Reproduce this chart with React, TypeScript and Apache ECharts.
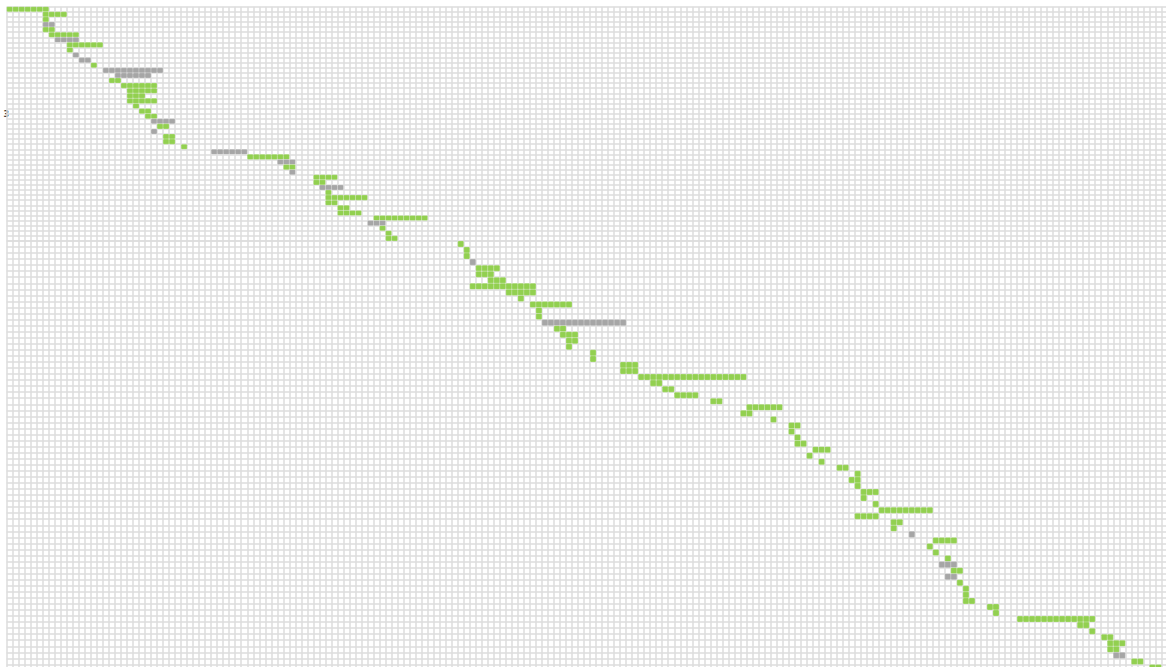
import React, { useEffect, useRef } from "react";
import * as echarts from "echarts";

// ---- data ---------------------------------------------------------------
// Column count of the matrix (each column is one time slot)
const COLUMN_COUNT = 193;
const columnLabels: string[] = Array.from({ length: COLUMN_COUNT }, (_, i) => String(i + 1));

// Upper block: rows 1–46 (start column, end column, status: 0 = done/green, 1 = grey)
const upperStart = [0, 6, 6, 6, 6, 7, 8, 10, 10, 11, 12, 14, 16, 18, 17, 19, 20, 20, 20, 21, 22, 23, 24, 25, 24, 26, 26, 29, 34, 40, 45, 46, 47, 51, 51, 52, 53, 53, 53, 55, 55, 61, 60, 62, 63, 63];
const upperEnd = [6, 9, 6, 7, 7, 11, 11, 15, 10, 11, 13, 14, 25, 23, 18, 24, 24, 22, 24, 21, 23, 24, 27, 26, 24, 27, 27, 29, 39, 46, 47, 47, 47, 54, 52, 55, 53, 59, 54, 56, 58, 69, 62, 62, 63, 64];
const upperStatus = [0, 0, 0, 1, 0, 0, 1, 0, 0, 1, 1, 0, 1, 1, 0, 0, 0, 0, 0, 0, 0, 0, 1, 0, 1, 0, 0, 0, 1, 0, 1, 0, 1, 0, 0, 1, 0, 0, 0, 0, 0, 0, 1, 0, 0, 0];

// Lower block: rows 47–117
const lowerStart = [75, 76, 76, 77, 78, 78, 80, 77, 83, 85, 87, 88, 88, 89, 91, 92, 93, 93, 97, 97, 102, 102, 105, 107, 109, 111, 117, 123, 122, 127, 130, 130, 131, 131, 134, 133, 135, 138, 141, 140, 141, 142, 142, 144, 145, 141, 147, 147, 150, 154, 153, 154, 156, 155, 157, 156, 158, 159, 159, 159, 163, 164, 168, 178, 180, 182, 183, 183, 184, 187, 190];
const lowerEnd = [75, 76, 76, 77, 81, 80, 82, 87, 87, 85, 93, 88, 88, 102, 92, 94, 94, 93, 97, 97, 104, 104, 122, 108, 110, 114, 118, 128, 123, 127, 131, 130, 131, 132, 136, 133, 135, 139, 141, 141, 141, 144, 142, 144, 153, 144, 148, 147, 150, 157, 153, 154, 156, 157, 158, 157, 158, 159, 159, 160, 164, 164, 180, 179, 180, 183, 185, 184, 185, 188, 191];
const lowerStatus = [0, 0, 0, 1, 0, 0, 0, 0, 0, 0, 0, 0, 0, 1, 0, 0, 0, 0, 0, 0, 0, 0, 0, 0, 0, 0, 0, 0, 0, 0, 0, 0, 0, 0, 0, 0, 0, 0, 0, 0, 0, 0, 0, 0, 0, 0, 0, 0, 1, 0, 0, 0, 0, 1, 0, 1, 0, 0, 0, 0, 0, 0, 0, 0, 0, 0, 0, 0, 1, 0, 0];

const upperRowLabels = upperStart.map((_, i) => String(i + 1));
const lowerRowLabels = lowerStart.map((_, i) => String(i + 1 + upperStart.length));

const STATUS_COLORS = ["#92d050", "#a6a6a6"];
const GRID_LINE = "#dddddd";

// ---- layout -------------------------------------------------------------
const LEFT = 6.7;
const TOP = 6.7;
const COL_W = 6.014;
const UPPER_ROW_H = 5.092;
const LOWER_ROW_H = 6.05;

const renderRun = (_params: any, api: any) => {
  const s = api.value(0) as number;
  const e = api.value(1) as number;
  const r = api.value(2) as number;
  const k = api.value(3) as number;
  const size = api.size([1, 1]) as number[];
  const w = size[0];
  const h = size[1];
  const children: any[] = [];
  for (let c = s; c <= e; c++) {
    const p = api.coord([c, r]);
    children.push({
      type: "rect",
      shape: { x: p[0] - w / 2, y: p[1] - h / 2, width: w, height: h, r: 1 },
      style: {
        fill: STATUS_COLORS[k],
        stroke: "rgba(255,255,255,0.35)",
        lineWidth: 0.6,
      },
    });
  }
  return { type: "group", children };
};

const catAxis = (data: string[], gridIndex: number, inverse = false) => ({
  type: "category" as const,
  gridIndex,
  data,
  inverse,
  boundaryGap: true,
  axisLine: { show: false },
  axisTick: { show: false },
  axisLabel: { show: false },
  splitLine: { show: true, interval: 0, lineStyle: { color: GRID_LINE, width: 1.5 } },
});

export default function App() {
  const ref = useRef<HTMLDivElement>(null);
  useEffect(() => {
    if (!ref.current) return;
    const chart = echarts.init(ref.current, undefined, { renderer: "svg" });
    const upperH = upperStart.length * UPPER_ROW_H;
    const lowerH = lowerStart.length * LOWER_ROW_H;
    const width = COLUMN_COUNT * COL_W;
    const upperData = upperStart.map((s, i) => [s, upperEnd[i], i, upperStatus[i]]);
    const lowerData = lowerStart.map((s, i) => [s, lowerEnd[i], i, lowerStatus[i]]);
    chart.setOption({
      animation: false,
      backgroundColor: "#ffffff",
      grid: [
        { left: LEFT, top: TOP, width, height: upperH, show: false },
        { left: LEFT, top: TOP + upperH, width, height: lowerH, show: false },
      ],
      xAxis: [catAxis(columnLabels, 0), catAxis(columnLabels, 1)],
      yAxis: [catAxis(upperRowLabels, 0, true), catAxis(lowerRowLabels, 1, true)],
      graphic: [
        {
          type: "text",
          x: 3.5,
          y: 110.5,
          style: { text: "3", fontSize: 8, fontWeight: "bold", fill: "#444", fontFamily: "DejaVu Sans" },
        },
      ],
      series: [
        {
          type: "custom",
          xAxisIndex: 0,
          yAxisIndex: 0,
          renderItem: renderRun,
          encode: { x: [0, 1], y: 2 },
          data: upperData,
        },
        {
          type: "custom",
          xAxisIndex: 1,
          yAxisIndex: 1,
          renderItem: renderRun,
          encode: { x: [0, 1], y: 2 },
          data: lowerData,
        },
      ],
    });
    return () => chart.dispose();
  }, []);
  return (
    <div style={{ position: "fixed", left: 0, top: 0, width: 1166, height: 667, overflow: "hidden", background: "#fff" }}>
      <div ref={ref} style={{ position: "absolute", left: 0, top: 0, width: 1172, height: 674 }} />
    </div>
  );
}
